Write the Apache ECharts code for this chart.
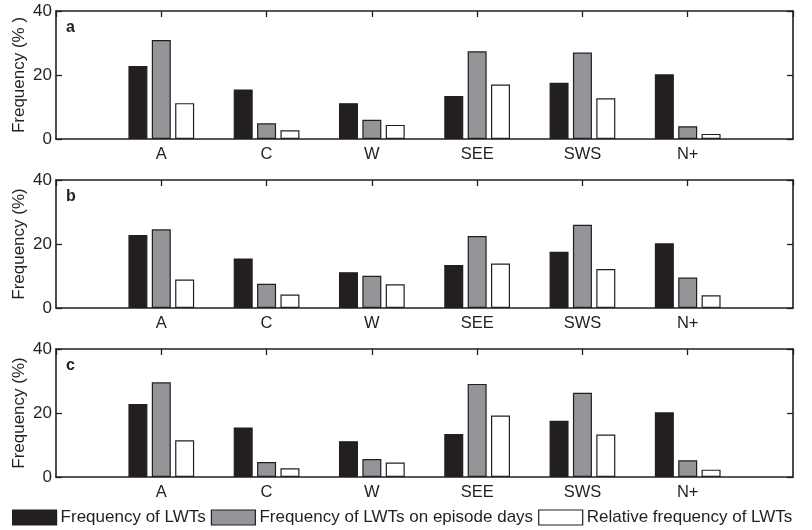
<!DOCTYPE html>
<html>
<head>
<meta charset="utf-8">
<script src="https://cdn.jsdelivr.net/npm/echarts@6/dist/echarts.min.js"></script>
<style>html,body{margin:0;padding:0;background:#fff}#c{width:812px;height:530px}</style>
</head>
<body>
<div id="c"></div>
<script>
const categories = ['A', 'C', 'W', 'SEE', 'SWS', 'N+'];
const seriesNames = ['Frequency of LWTs', 'Frequency of LWTs on episode days', 'Relative frequency of LWTs'];
const lwtFreq   = [22.8, 15.5, 11.2, 13.4, 17.6, 20.2];
const episodeA  = [30.9, 4.9, 6.0, 27.4, 27.0, 4.0];
const relativeA = [11.2, 2.7, 4.4, 17.0, 12.7, 1.6];
const episodeB  = [24.6, 7.6, 10.1, 22.5, 26.0, 9.5];
const relativeB = [8.9, 4.2, 7.4, 13.9, 12.2, 4.0];
const episodeC  = [29.6, 4.7, 5.6, 29.1, 26.3, 5.2];
const relativeC = [11.5, 2.7, 4.5, 19.2, 13.3, 2.3];
const panelLabels = ['a', 'b', 'c'];
const yTitles = ['Frequency (% )', 'Frequency (%)', 'Frequency (%)'];
const yTicks = [0, 20, 40];

const panels = [
  [lwtFreq, episodeA, relativeA],
  [lwtFreq, episodeB, relativeB],
  [lwtFreq, episodeC, relativeC]
];
const fills = ['#231f20', '#939598', '#ffffff'];
const ink = '#231f20';
const font = 'Liberation Sans, Arial, Helvetica, sans-serif';
const gridTops = [11, 180, 349];
const gridH = 128;

const axisCats = [''].concat(categories).concat([' ']);
const pad = arr => [null].concat(arr).concat([null]);
const tickStyle = {color: ink, width: 1.3};

const grid = [], xAxis = [], yAxis = [], series = [], graphic = [];
panels.forEach((p, i) => {
  grid.push({left: 56, right: 19, top: gridTops[i], height: gridH, containLabel: false, outerBoundsMode: 'none'});
  xAxis.push({
    type: 'category', gridIndex: i, data: axisCats, boundaryGap: false, position: 'bottom',
    axisLine: {lineStyle: {color: ink, width: 1.6}},
    axisTick: {show: false},
    axisLabel: {interval: 0, color: ink, fontSize: 16.5, fontFamily: font, margin: 7}
  });
  xAxis.push({
    type: 'category', gridIndex: i, data: axisCats, boundaryGap: false, position: 'top',
    axisLine: {show: true, onZero: false, lineStyle: {color: ink, width: 1.6}},
    axisTick: {show: true, inside: true, length: 6, interval: 0, lineStyle: tickStyle},
    axisLabel: {show: false}
  });
  yAxis.push({
    type: 'value', gridIndex: i, min: yTicks[0], max: yTicks[yTicks.length - 1], interval: yTicks[1] - yTicks[0],
    position: 'left',
    name: yTitles[i], nameLocation: 'middle', nameGap: 28, nameRotate: 90, nameMoveOverlap: false,
    nameTextStyle: {color: ink, fontSize: 17, fontFamily: font},
    axisLine: {show: true, lineStyle: {color: ink, width: 1.6}},
    axisTick: {show: true, inside: true, length: 6, lineStyle: tickStyle},
    axisLabel: {color: ink, fontSize: 17, fontFamily: font, margin: 4},
    splitLine: {show: false}
  });
  yAxis.push({
    type: 'value', gridIndex: i, min: yTicks[0], max: yTicks[yTicks.length - 1], interval: yTicks[1] - yTicks[0],
    position: 'right',
    axisLine: {show: true, onZero: false, lineStyle: {color: ink, width: 1.6}},
    axisTick: {show: true, inside: true, length: 6, lineStyle: tickStyle},
    axisLabel: {show: false},
    splitLine: {show: false}
  });
  p.forEach((vals, k) => {
    series.push({
      type: 'bar', name: seriesNames[k], xAxisIndex: i * 2, yAxisIndex: i * 2,
      data: pad(vals), barWidth: 19, barGap: '23%',
      itemStyle: {color: fills[k], borderColor: ink, borderWidth: 1.2},
      emphasis: {disabled: true}, animation: false
    });
  });
  graphic.push({
    type: 'text', left: 66, top: gridTops[i] + 9,
    style: {text: panelLabels[i], font: 'bold 16px ' + font, fill: ink}
  });
});

const chart = echarts.init(document.getElementById('c'), null, {renderer: 'canvas'});
chart.setOption({
  backgroundColor: '#fff',
  animation: false,
  grid, xAxis, yAxis, series, graphic,
  legend: {
    data: seriesNames, left: 7, top: 504, itemWidth: 44, itemHeight: 15, itemGap: 5,
    icon: 'rect', selectedMode: false,
    itemStyle: {borderColor: ink, borderWidth: 1.2},
    textStyle: {color: ink, fontSize: 17, fontFamily: font, padding: [0, 0, 0, -1]}
  }
});
</script>
</body>
</html>
